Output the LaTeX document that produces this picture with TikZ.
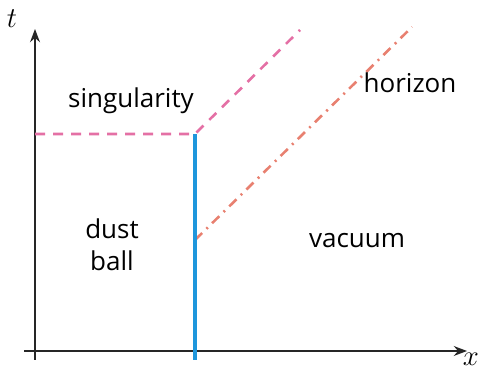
\documentclass[tikz,border=0pt]{standalone}
\usepackage{fontspec}
\setsansfont{Open Sans}
\usetikzlibrary{arrows.meta}
\definecolor{singpink}{RGB}{228,112,165}
\definecolor{horzorange}{RGB}{232,128,112}
\definecolor{ballblue}{RGB}{30,150,220}

\begin{document}
\begin{tikzpicture}[x=5pt, y=5pt, >=Stealth, font=\sffamily\fontsize{13}{16}\selectfont,
  axis/.style={->, thick, black!85},
  singline/.style={line width=1.3pt, singpink, dash pattern=on 5pt off 4pt},
  horzline/.style={line width=1.3pt, horzorange, dash pattern=on 5pt off 3pt on 1pt off 3pt},
  ballline/.style={line width=1.6pt, ballblue}]
  \useasboundingbox (0,0) rectangle (48.7,36.9);
  \coordinate (xs) at (2.4,1.8);
  \coordinate (xe) at (46.7,1.8);
  \coordinate (ts) at (3.5,0.9);
  \coordinate (te) at (3.5,34.0);
  \draw[axis] (xs) -- (xe);
  \draw[axis] (ts) -- (te);
  \node (tlab) at (1.2,35.0) {\Large$t$};
  \node (xlab) at (47.1,1.0) {\Large$x$};
  \coordinate (bbot) at (19.5,0.9);
  \coordinate (btop) at (19.5,23.5);
  \coordinate (sleft) at (3.5,23.5);
  \coordinate (send) at (30.0,33.9);
  \coordinate (hstart) at (19.5,12.9);
  \coordinate (hend) at (41.2,34.2);
  \draw[singline] (sleft) -- (btop) -- (send);
  \draw[horzline] (hstart) -- (hend);
  \draw[ballline] (bbot) -- (btop);
  \node (sing) at (13.1,26.8) {singularity};
  \node (horz) at (41.0,28.6) {horizon};
  \node[align=center] (dust) at (11.2,12.4) {dust\\ball};
  \node (vac) at (35.7,12.8) {vacuum};
\end{tikzpicture}
\end{document}
